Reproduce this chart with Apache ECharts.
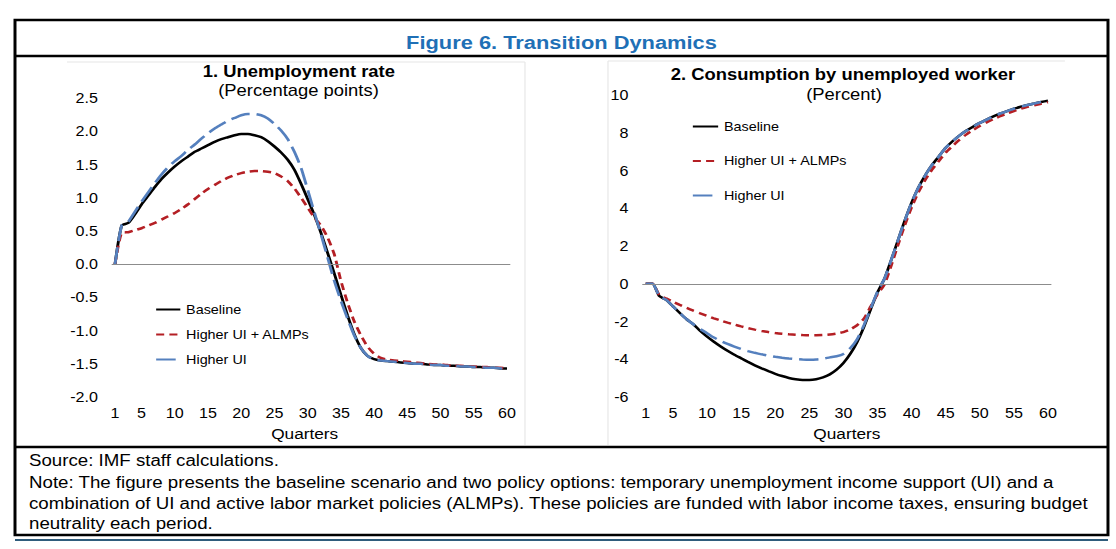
<!DOCTYPE html>
<html><head><meta charset="utf-8">
<script src="https://cdn.jsdelivr.net/npm/echarts@6/dist/echarts.min.js"></script>
<style>
html,body{margin:0;padding:0;background:#fff;overflow:hidden;}
#wrap{width:1116px;height:549px;overflow:hidden;}
#chart{width:970px;height:549px;transform:scaleX(1.1505);transform-origin:0 0;}
</style></head><body><div id="wrap"><div id="chart"></div></div>
<script>
// ---------- DATA ----------
const quarters = [1,2,3,4,5,6,7,8,9,10,11,12,13,14,15,16,17,18,19,20,21,22,23,24,25,26,27,28,29,30,
  31,32,33,34,35,36,37,38,39,40,41,42,43,44,45,46,47,48,49,50,51,52,53,54,55,56,57,58,59,60];
const xTickLabels = [1,5,10,15,20,25,30,35,40,45,50,55,60];
const seriesNames = ['Baseline', 'Higher UI + ALMPs', 'Higher UI'];

// Panel 1: Unemployment rate (percentage points)
const unempBaseline = [0,0.58,0.62,0.75,0.90,1.03,1.16,1.28,1.38,1.47,1.55,1.62,1.69,1.74,1.79,1.84,1.88,1.91,1.94,1.96,
  1.96,1.94,1.91,1.85,1.77,1.68,1.57,1.42,1.21,0.98,0.74,0.47,0.17,-0.14,-0.46,-0.77,-1.05,-1.26,-1.38,-1.43,
  -1.45,-1.46,-1.47,-1.48,-1.49,-1.50,-1.50,-1.51,-1.52,-1.52,-1.53,-1.53,-1.54,-1.54,-1.55,-1.55,-1.56,-1.56,-1.57,-1.57];
const unempALMP = [0,0.47,0.48,0.51,0.54,0.58,0.62,0.67,0.72,0.77,0.83,0.90,0.98,1.06,1.13,1.19,1.25,1.30,1.34,1.37,
  1.39,1.40,1.40,1.39,1.37,1.32,1.25,1.14,1.00,0.85,0.70,0.58,0.40,0.15,-0.25,-0.58,-0.86,-1.07,-1.24,-1.35,
  -1.41,-1.44,-1.45,-1.46,-1.47,-1.48,-1.49,-1.50,-1.51,-1.51,-1.52,-1.53,-1.53,-1.54,-1.54,-1.55,-1.55,-1.56,-1.56,-1.57];
const unempUI = [0,0.58,0.64,0.79,0.94,1.08,1.22,1.35,1.46,1.55,1.63,1.72,1.80,1.89,1.97,2.04,2.10,2.16,2.20,2.24,
  2.26,2.26,2.24,2.19,2.11,2.01,1.88,1.69,1.45,1.12,0.78,0.45,0.10,-0.25,-0.55,-0.82,-1.07,-1.26,-1.38,-1.44,
  -1.45,-1.46,-1.47,-1.48,-1.49,-1.50,-1.50,-1.51,-1.52,-1.52,-1.53,-1.53,-1.54,-1.54,-1.55,-1.55,-1.56,-1.56,-1.57,-1.57];

// Panel 2: Consumption by unemployed worker (percent)
const consBaseline = [0,0,-0.65,-0.85,-1.20,-1.55,-1.88,-2.15,-2.50,-2.80,-3.07,-3.32,-3.55,-3.76,-3.95,-4.14,-4.32,-4.48,-4.63,-4.77,
  -4.89,-4.99,-5.06,-5.10,-5.10,-5.06,-4.96,-4.80,-4.55,-4.20,-3.72,-3.10,-2.30,-1.35,-0.45,0.25,1.25,2.30,3.35,4.30,
  5.10,5.75,6.30,6.75,7.20,7.55,7.85,8.10,8.32,8.52,8.70,8.87,9.02,9.15,9.27,9.38,9.47,9.55,9.63,9.70];
const consALMP = [0,0,-0.60,-0.78,-0.95,-1.12,-1.28,-1.43,-1.57,-1.70,-1.83,-1.95,-2.06,-2.16,-2.26,-2.35,-2.43,-2.50,-2.56,-2.61,
  -2.65,-2.68,-2.70,-2.72,-2.73,-2.73,-2.72,-2.69,-2.64,-2.56,-2.42,-2.20,-1.85,-1.20,-0.55,-0.05,0.95,2.05,3.10,4.05,
  4.85,5.50,6.05,6.50,6.95,7.30,7.62,7.90,8.14,8.36,8.55,8.72,8.88,9.02,9.15,9.27,9.37,9.46,9.54,9.62];
const consUI = [0,0,-0.65,-0.85,-1.20,-1.55,-1.88,-2.15,-2.40,-2.62,-2.85,-3.03,-3.19,-3.33,-3.46,-3.57,-3.66,-3.74,-3.81,-3.87,
  -3.92,-3.96,-3.99,-4.01,-4.02,-4.01,-3.97,-3.90,-3.84,-3.72,-3.42,-2.95,-2.20,-1.30,-0.42,0.25,1.25,2.30,3.35,4.30,
  5.10,5.75,6.30,6.75,7.20,7.55,7.85,8.10,8.32,8.52,8.70,8.87,9.02,9.15,9.27,9.38,9.47,9.55,9.63,9.70];

const headerTitle = 'Figure 6. Transition Dynamics';
const panelTitles = ['1. Unemployment rate', '2. Consumption by unemployed worker'];
const panelSubtitles = ['(Percentage points)', '(Percent)'];
const xAxisName = 'Quarters';
const footerLines = [
  'Source: IMF staff calculations.',
  'Note: The figure presents the baseline scenario and two policy options: temporary unemployment income support (UI) and a',
  'combination of UI and active labor market policies (ALMPs). These policies are funded with labor income taxes, ensuring budget',
  'neutrality each period.'
];

// ---------- LAYOUT ----------
const S = 1116 / 970;           // horizontal stretch of the reference
const X = px => px / S;          // reference x -> chart x
const FONT = "'Liberation Sans', Arial, sans-serif";
const COLORS = { base: '#000000', almp: '#B41F24', ui: '#5580BE', axis: '#8c8c8c' };

const el = document.getElementById('chart');
const chart = echarts.init(el, null, { renderer: 'svg' });

function xAxisFor(gridIndex, namePad) {
  return {
    type: 'category', gridIndex, data: quarters, boundaryGap: true,
    axisLine: { show: false }, axisTick: { show: false }, splitLine: { show: false },
    axisLabel: {
      interval: (idx, val) => xTickLabels.indexOf(Number(val)) >= 0,
      color: '#000', fontFamily: FONT, fontSize: 14, margin: 9
    },
    name: xAxisName, nameLocation: 'middle', nameGap: 29,
    nameTextStyle: { color: '#000', fontFamily: FONT, fontSize: 15, padding: namePad }
  };
}
function yAxisFor(gridIndex, min, max, interval, fmt) {
  return {
    type: 'value', gridIndex, min, max, interval,
    axisLine: { show: false }, axisTick: { show: false }, splitLine: { show: false },
    axisLabel: { color: '#000', fontFamily: FONT, fontSize: 14, margin: 12, formatter: fmt }
  };
}
function lineSeries(name, data, idx, color, width, dash, withZero) {
  const s = {
    name, type: 'line', data, xAxisIndex: idx, yAxisIndex: idx,
    symbol: 'none', smooth: 0.2, animation: false,
    lineStyle: { color, width, type: dash },
    itemStyle: { color }
  };
  if (withZero) {
    s.markLine = {
      silent: true, symbol: ['none', 'none'], label: { show: false },
      lineStyle: { color: COLORS.axis, width: 1, type: 'solid' },
      emphasis: { disabled: true },
      data: [{ yAxis: 0 }], animation: false
    };
  }
  return s;
}

const frameStroke = { stroke: '#000', lineWidth: 2.6, fill: null };
const faint = { stroke: '#e6e6e6', lineWidth: 1 };
const graphics = [
  { type: 'rect', shape: { x: X(15), y: 20, width: X(1108) - X(15), height: 515 }, style: frameStroke, silent: true },
  { type: 'line', shape: { x1: X(15), y1: 56, x2: X(1108), y2: 56 }, style: { stroke: '#000', lineWidth: 2.6 }, silent: true },
  { type: 'line', shape: { x1: X(15), y1: 447, x2: X(1108), y2: 447 }, style: { stroke: '#000', lineWidth: 2.6 }, silent: true },
  { type: 'line', shape: { x1: X(15), y1: 540, x2: X(1108), y2: 540 }, style: { stroke: '#2F5C7C', lineWidth: 2 }, silent: true },
  { type: 'line', shape: { x1: X(67), y1: 62, x2: X(525), y2: 62 }, style: faint, silent: true },
  { type: 'line', shape: { x1: X(525), y1: 62, x2: X(525), y2: 445 }, style: faint, silent: true },
  { type: 'line', shape: { x1: X(608), y1: 61, x2: X(1065), y2: 61 }, style: faint, silent: true },
  { type: 'line', shape: { x1: X(608), y1: 61, x2: X(608), y2: 445 }, style: faint, silent: true }
];
const footerY = [460, 482, 503, 523];
footerLines.forEach((t, i) => {
  graphics.push({
    type: 'text', x: X(29), y: footerY[i], silent: true,
    style: { text: t, fill: '#000', font: '16.25px ' + FONT, textAlign: 'left', textVerticalAlign: 'middle' }
  });
});

function titleAt(text, cx, cy, size, weight, color) {
  return {
    text, left: X(cx), top: cy, textAlign: 'center', textVerticalAlign: 'middle', padding: 0,
    textStyle: { color, fontFamily: FONT, fontSize: size, fontWeight: weight }
  };
}

const legendText = { color: '#000', fontFamily: FONT, fontSize: 12.5 };
const legendBase = {
  data: seriesNames, orient: 'vertical', itemHeight: 14, padding: 0,
  textStyle: legendText, selectedMode: false,
  itemStyle: { opacity: 0, borderWidth: 0 }
};

chart.setOption({
  animation: false,
  title: [
    titleAt(headerTitle, 561.5, 42, 19, 'bold', '#1F70B6'),
    titleAt(panelTitles[0], 298.8, 71, 16, 'bold', '#000'),
    titleAt(panelSubtitles[0], 298.5, 90, 16, 'normal', '#000'),
    titleAt(panelTitles[1], 843, 74, 16, 'bold', '#000'),
    titleAt(panelSubtitles[1], 844, 94, 16, 'normal', '#000')
  ],
  legend: [
    Object.assign({}, legendBase, { left: X(155), top: 303, itemWidth: 21, itemGap: 12 }),
    Object.assign({}, legendBase, { left: X(691.7), top: 120, itemWidth: 22, itemGap: 21.5 })
  ],
  grid: [
    { left: X(111.7), width: X(510.3) - X(111.7), top: 98, height: 299, containLabel: false },
    { left: X(642.3), width: X(1051.4) - X(642.3), top: 95, height: 302, containLabel: false }
  ],
  xAxis: [xAxisFor(0, [0, 11, 0, 0]), xAxisFor(1, 0)],
  yAxis: [
    yAxisFor(0, -2, 2.5, 0.5, v => v.toFixed(1)),
    yAxisFor(1, -6, 10, 2, v => String(v))
  ],
  series: [
    lineSeries(seriesNames[0], unempBaseline, 0, COLORS.base, 2.5, 'solid', true),
    lineSeries(seriesNames[1], unempALMP, 0, COLORS.almp, 2.5, [7, 4.5], false),
    lineSeries(seriesNames[2], unempUI, 0, COLORS.ui, 2.5, [17, 6], false),
    lineSeries(seriesNames[0], consBaseline, 1, COLORS.base, 2.5, 'solid', true),
    lineSeries(seriesNames[1], consALMP, 1, COLORS.almp, 2.5, [7, 4.5], false),
    lineSeries(seriesNames[2], consUI, 1, COLORS.ui, 2.5, [17, 6], false)
  ],
  graphic: graphics
});
</script></body></html>
